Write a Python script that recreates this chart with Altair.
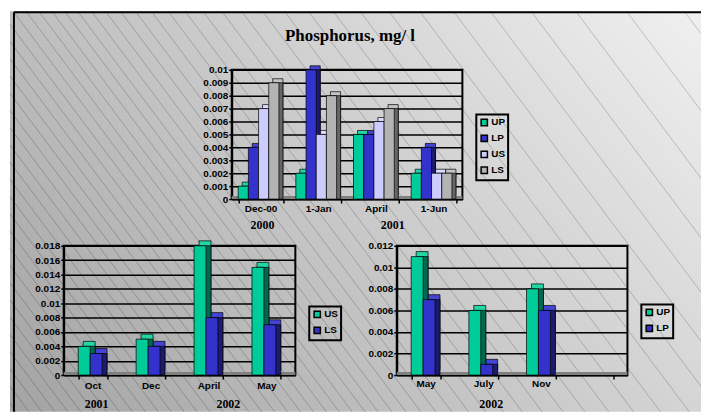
import altair as alt
import pandas as pd

# ---------------- data ----------------
TITLE = "Phosphorus, mg/ l"

TOP_CATS = ["Dec-00", "1-Jan", "April", "1-Jun"]
TOP_SERIES = ["UP", "LP", "US", "LS"]
TOP_UP = [0.001, 0.002, 0.005, 0.002]
TOP_LP = [0.004, 0.010, 0.005, 0.004]
TOP_US = [0.007, 0.005, 0.006, 0.002]
TOP_LS = [0.009, 0.008, 0.007, 0.002]
TOP_Y_TICKS = [0, 0.001, 0.002, 0.003, 0.004, 0.005, 0.006, 0.007, 0.008, 0.009, 0.01]
TOP_YEAR_LABELS = ["2000", "2001"]
TOP_YEAR_CATS = ["Dec-00", "April"]

BL_CATS = ["Oct", "Dec", "April", "May"]
BL_SERIES = ["US", "LS"]
BL_US = [0.004, 0.005, 0.018, 0.015]
BL_LS = [0.003, 0.004, 0.008, 0.007]
BL_Y_TICKS = [0, 0.002, 0.004, 0.006, 0.008, 0.01, 0.012, 0.014, 0.016, 0.018]
BL_YEAR_LABELS = ["2001", "2002"]
BL_YEAR_CATS = ["Oct", "April"]

BR_CATS = ["May", "July", "Nov", ""]
BR_SERIES = ["UP", "LP"]
BR_UP = [0.011, 0.006, 0.008]
BR_LP = [0.007, 0.001, 0.006]
BR_Y_TICKS = [0, 0.002, 0.004, 0.006, 0.008, 0.01, 0.012]
BR_YEAR_LABELS = ["2002"]
BR_YEAR_CATS = ["July"]

# background texture: x where each diagonal line meets the top edge (page px)
BG_LINE_X = [-320, -307, -294, -281, -268, -255, -242, -229, -216, -203, -190,
             -177, -164, -151, -138, -125, -112, -99, -86, -73, -60, -47, -34,
             -21, -8, 5, 18, 31, 44, 57, 70, 84, 98, 113, 128, 144, 161, 178,
             196, 215, 235, 256, 278, 302, 327, 354, 383, 414, 448, 485, 526,
             571, 622, 680]

# ---------------- styles ----------------
FONT = "Liberation Sans"
SERIF = "Liberation Serif"
GREEN, BLUE, LAV, GRAY = "#00cc99", "#3333cc", "#ccccff", "#b3b3b3"
TOP_FACE = {GREEN: "#22d6a6", BLUE: "#4444d4", LAV: "#dcdcff", GRAY: "#c4c4c4"}
SIDE_FACE = {GREEN: "#006a50", BLUE: "#1c1c6e", LAV: "#77779a", GRAY: "#666666"}

# page-pixel layout
ORIGIN = (62, 67)          # top-left of the layout (bottom-left panel x, top panel y)
PAGE_RIGHT, PAGE_BOTTOM = 703, 411


def panel(cats, series, columns, colors, width, height, ymax, yticks,
          bar_w, depth, legend_xy, label_pad, year_cats, year_labels, year_dx, year_dy):
    rows = []
    for s, vals, c in zip(series, columns, colors):
        for cat, v in zip(cats, vals):
            rows.append({"cat": cat, "series": s, "value": v,
                         "top_c": TOP_FACE[c], "side_c": SIDE_FACE[c]})
    df = pd.DataFrame(rows)
    n, m = len(cats), len(series)
    step = width / n
    po = depth / (2 * bar_w)
    bw = bar_w * (m + 2 * po)
    pi = 1 - bw / step

    x_enc = alt.X("cat:N", sort=cats,
                  scale=alt.Scale(domain=cats, paddingInner=pi, paddingOuter=pi / 2),
                  axis=alt.Axis(title=None, labelAngle=0, grid=False, tickBand="extent",
                                tickSize=4, labelPadding=label_pad))
    y_enc = alt.Y("value:Q",
                  scale=alt.Scale(domain=[0, ymax], nice=False, zero=True),
                  axis=alt.Axis(title=None, values=yticks, format="~g", grid=True,
                                tickSize=3, labelPadding=1))

    def xo(align):
        return alt.XOffset("series:N", sort=series,
                           scale=alt.Scale(domain=series, paddingInner=0,
                                           paddingOuter=po, align=align))

    base = alt.Chart(df)
    floor = alt.Chart(pd.DataFrame({"k": [0]})).mark_rule(
        color="#808080", strokeWidth=3).encode(y=alt.value(height - 1.5))
    top = base.mark_bar(stroke="black", strokeWidth=0.7,
                        yOffset=-depth, y2Offset=-depth).encode(
        x=x_enc, xOffset=xo(1), y=y_enc, color=alt.Color("top_c:N", scale=None))
    side = base.mark_bar(stroke="black", strokeWidth=0.7).encode(
        x=x_enc, xOffset=xo(1), y=y_enc, color=alt.Color("side_c:N", scale=None))
    front = base.mark_bar(stroke="black", strokeWidth=0.7).encode(
        x=x_enc, xOffset=xo(0), y=y_enc,
        color=alt.Color("series:N", sort=series,
                        scale=alt.Scale(domain=series, range=colors),
                        legend=alt.Legend(orient="none", legendX=legend_xy[0],
                                          legendY=legend_xy[1], title=None,
                                          symbolType="square", symbolSize=40,
                                          symbolStrokeColor="black", symbolStrokeWidth=1.5,
                                          labelFont=FONT, labelFontSize=10,
                                          labelFontWeight="bold", labelColor="black",
                                          strokeColor="black",
                                          padding=3, rowPadding=2, labelOffset=2)))
    texts = []
    for cat, lab, dx in zip(year_cats, year_labels, year_dx):
        texts.append(alt.Chart(pd.DataFrame({"cat": [cat], "label": [lab]})).mark_text(
            dx=dx, font=SERIF, fontSize=12, fontWeight="bold", color="black",
            baseline="middle").encode(x=x_enc, y=alt.value(height + year_dy),
                                      text="label:N"))
    return alt.layer(floor, top, side, front, *texts).resolve_scale(
        xOffset="independent").properties(width=width, height=height)


# ---------------- background (drawn in a spacer view) ----------------
ox, oy = ORIGIN
seg = []
for u in BG_LINE_X:
    ys, xs = 8.0, u + 0.75 * 8
    if xs < 8:
        ys, xs = (8 - u) / 0.75, 8.0
    ye, xe = float(PAGE_BOTTOM), u + 0.75 * PAGE_BOTTOM
    if xe > PAGE_RIGHT:
        ye, xe = (PAGE_RIGHT - u) / 0.75, float(PAGE_RIGHT)
    if ys < ye:
        seg.append({"x": xs - ox, "y": ys - oy, "x2": xe - ox, "y2": ye - oy})
seg_df = pd.DataFrame(seg)

one = pd.DataFrame({"k": [0]})
bg = alt.Chart(one).mark_rect(
    fill={"gradient": "linear", "x1": 0, "y1": 1, "x2": 1.19, "y2": 0.35,
          "stops": [{"offset": 0, "color": "#a3a3a3"}, {"offset": 1, "color": "#f0f0f0"}]}
).encode(x=alt.value(8 - ox), x2=alt.value(PAGE_RIGHT - ox),
         y=alt.value(8 - oy), y2=alt.value(PAGE_BOTTOM - oy))
lines = alt.Chart(seg_df).mark_rule(color="black", opacity=0.22, strokeWidth=0.9).encode(
    x=alt.X("x:Q", scale=None, axis=None), y=alt.Y("y:Q", scale=None, axis=None),
    x2="x2:Q", y2="y2:Q")
frame_top = alt.Chart(one).mark_rule(color="black", strokeWidth=2).encode(
    x=alt.value(12 - ox), x2=alt.value(PAGE_RIGHT - ox), y=alt.value(9 - oy))
frame_left = alt.Chart(one).mark_rule(color="black", strokeWidth=2).encode(
    x=alt.value(12 - ox), y=alt.value(9 - oy), y2=alt.value(PAGE_BOTTOM - oy))
spacer = alt.layer(bg, lines, frame_top, frame_left).properties(
    width=169, height=130, view=alt.ViewBackground(stroke="transparent"))

# ---------------- panels ----------------
top_panel = panel(TOP_CATS, TOP_SERIES, [TOP_UP, TOP_LP, TOP_US, TOP_LS],
                  [GREEN, BLUE, LAV, GRAY], 232, 130, 0.01, TOP_Y_TICKS,
                  10.25, 4, (246, 45), 1, TOP_YEAR_CATS, TOP_YEAR_LABELS, [2, 17], 26
                  ).properties(title=alt.TitleParams(
                      TITLE, font=SERIF, fontSize=17, fontWeight="bold", color="black",
                      anchor="middle", frame="group", offset=20, dx=3))

bl_panel = panel(BL_CATS, BL_SERIES, [BL_US, BL_LS], [GREEN, BLUE], 233, 130, 0.018,
                 BL_Y_TICKS, 12, 5, (247, 61), 2, BL_YEAR_CATS, BL_YEAR_LABELS, [4, 20], 29)

br_panel = panel(BR_CATS, BR_SERIES, [BR_UP, BR_LP], [GREEN, BLUE], 232, 130, 0.012,
                 BR_Y_TICKS, 12, 5, (246, 59), 0, BR_YEAR_CATS, BR_YEAR_LABELS, [8], 29)

row0 = alt.hconcat(spacer, top_panel, spacing=0, bounds="flush").resolve_scale(
    color="independent").resolve_legend(color="independent")
row1 = alt.hconcat(bl_panel, br_panel, spacing=102, bounds="flush").resolve_scale(
    color="independent").resolve_legend(color="independent")

# a nested row counts as zero height in a flush layout, so the gap includes the row height
chart = alt.vconcat(row0, row1, spacing=130 + 47, bounds="flush").resolve_scale(
    color="independent").resolve_legend(color="independent").properties(
    padding=0, autosize=alt.AutoSizeParams(type="pad"), background="white"
).configure_view(stroke="black", strokeWidth=2).configure_axis(
    labelFont=FONT, labelFontSize=10, labelFontWeight="bold", labelColor="black",
    domainColor="black", domainWidth=2, tickColor="black", tickWidth=1.5,
    gridColor="black", gridWidth=1.5, gridOpacity=1
).configure_legend(strokeWidth=2)

chart.save("out.html", embed_options={"renderer": "svg", "actions": False})
